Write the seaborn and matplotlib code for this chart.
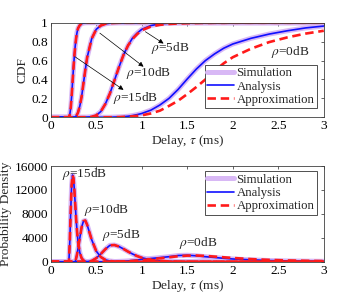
import numpy as np
import matplotlib
matplotlib.use("Agg")
import matplotlib.pyplot as plt
import seaborn as sns
from matplotlib.lines import Line2D

sns.set_style("white")
plt.rcParams["font.family"] = ["Liberation Serif", "DejaVu Serif"]
plt.rcParams["mathtext.fontset"] = "stix"
plt.rcParams["font.size"] = 9.6

# delay grid (ms)
delay = [0, 0.1, 0.15, 0.18,
         0.2, 0.21, 0.22, 0.23, 0.24, 0.25, 0.26, 0.27, 0.28, 0.29, 0.3,
         0.32, 0.34, 0.36, 0.38, 0.4,
         0.45, 0.5, 0.55, 0.6, 0.65, 0.7, 0.75, 0.8, 0.85, 0.9, 0.95, 1.0,
         1.1, 1.2, 1.3, 1.4, 1.5, 1.6, 1.7, 1.8, 1.9, 2.0,
         2.2, 2.4, 2.6, 2.8, 3.0]

snr_labels = ["0dB", "5dB", "10dB", "15dB"]

# CDF, analysis
cdf_0 = [0, 0, 0, 0,
         0, 0, 0, 0, 0, 0, 0, 0, 0, 0, 0,
         0, 0, 0, 0, 0,
         0, 0, 0, 0, 0, 0.002, 0.004, 0.006, 0.011, 0.018, 0.028, 0.04,
         0.075, 0.13, 0.2, 0.295, 0.405, 0.51, 0.6, 0.67, 0.73, 0.775,
         0.835, 0.88, 0.915, 0.945, 0.965]
cdf_5 = [0, 0, 0, 0,
         0, 0, 0, 0, 0, 0, 0, 0, 0, 0, 0,
         0, 0, 0, 0, 0,
         0.005, 0.02, 0.06, 0.14, 0.25, 0.39, 0.53, 0.66, 0.76, 0.84, 0.89, 0.93,
         0.97, 0.988, 0.995, 0.998, 1, 1, 1, 1, 1, 1,
         1, 1, 1, 1, 1]
cdf_10 = [0, 0, 0, 0,
          0, 0, 0, 0, 0, 0, 0, 0.005, 0.015, 0.03, 0.05,
          0.12, 0.22, 0.36, 0.5, 0.63,
          0.83, 0.93, 0.97, 0.988, 0.995, 0.998, 1, 1, 1, 1, 1, 1,
          1, 1, 1, 1, 1, 1, 1, 1, 1, 1,
          1, 1, 1, 1, 1]
cdf_15 = [0, 0, 0, 0,
          0, 0.03, 0.1, 0.22, 0.37, 0.52, 0.65, 0.76, 0.84, 0.9, 0.94,
          0.975, 0.99, 0.996, 0.999, 1,
          1, 1, 1, 1, 1, 1, 1, 1, 1, 1, 1, 1,
          1, 1, 1, 1, 1, 1, 1, 1, 1, 1,
          1, 1, 1, 1, 1]

# CDF, approximation (only 0dB and 5dB differ visibly)
cdf_0_apx = [0, 0, 0, 0,
             0, 0, 0, 0, 0, 0, 0, 0, 0, 0, 0,
             0, 0, 0, 0, 0,
             0, 0, 0, 0, 0, 0.001, 0.002, 0.004, 0.006, 0.01, 0.015, 0.02,
             0.04, 0.07, 0.12, 0.175, 0.245, 0.32, 0.4, 0.49, 0.57, 0.635,
             0.725, 0.795, 0.845, 0.885, 0.915]
cdf_5_apx = [0, 0, 0, 0,
             0, 0, 0, 0, 0, 0, 0, 0, 0, 0, 0,
             0, 0, 0, 0, 0,
             0.005, 0.02, 0.06, 0.14, 0.25, 0.39, 0.53, 0.66, 0.76, 0.83, 0.88, 0.92,
             0.96, 0.978, 0.987, 0.992, 0.995, 0.997, 0.998, 0.999, 0.999, 1,
             1, 1, 1, 1, 1]

# PDF, analysis
pdf_0 = [0, 0, 0, 0,
         0, 0, 0, 0, 0, 0, 0, 0, 0, 0, 0,
         0, 0, 0, 0, 0,
         0, 0, 0, 0, 0, 40, 70, 100, 150, 220, 300, 400,
         550, 700, 850, 1050, 1100, 1000, 850, 720, 580, 470,
         330, 210, 150, 110, 80]
pdf_5 = [0, 0, 0, 0,
         0, 0, 0, 0, 0, 0, 0, 0, 0, 0, 0,
         0, 0, 0, 0, 0,
         150, 600, 1300, 2100, 2750, 2800, 2550, 2150, 1700, 1300, 950, 680,
         330, 150, 60, 25, 10, 0, 0, 0, 0, 0,
         0, 0, 0, 0, 0]
pdf_10 = [0, 0, 0, 0,
          0, 0, 0, 0, 0, 0, 0, 0, 600, 1300, 2200,
          4000, 5800, 6800, 6900, 6200,
          3700, 1800, 800, 330, 130, 50, 20, 0, 0, 0, 0, 0,
          0, 0, 0, 0, 0, 0, 0, 0, 0, 0,
          0, 0, 0, 0, 0]
pdf_15 = [0, 0, 0, 0,
          0, 3500, 8500, 12800, 14500, 14000, 12000, 9500, 7000, 5000, 3400,
          1500, 600, 220, 80, 30,
          0, 0, 0, 0, 0, 0, 0, 0, 0, 0, 0, 0,
          0, 0, 0, 0, 0, 0, 0, 0, 0, 0,
          0, 0, 0, 0, 0]
pdf_0_apx = [0, 0, 0, 0,
             0, 0, 0, 0, 0, 0, 0, 0, 0, 0, 0,
             0, 0, 0, 0, 0,
             0, 0, 0, 0, 0, 20, 40, 70, 100, 150, 210, 280,
             420, 580, 760, 930, 1030, 1050, 980, 870, 750, 640,
             450, 320, 230, 170, 120]

cdf_sim = [cdf_0, cdf_5, cdf_10, cdf_15]
cdf_ana = [cdf_0, cdf_5, cdf_10, cdf_15]
cdf_apx = [cdf_0_apx, cdf_5_apx, cdf_10, cdf_15]
pdf_sim = [pdf_0, pdf_5, pdf_10, pdf_15]
pdf_ana = [pdf_0, pdf_5, pdf_10, pdf_15]
pdf_apx = [pdf_0_apx, pdf_5, pdf_10, pdf_15]

SIM_C = "#d8b8f5"
ANA_C = "#1010ff"
APX_C = "#ff1a1a"
DASH = (0, (3.2, 1.8))

fig = plt.figure(figsize=(3.57, 3.03), dpi=100)
ax1 = fig.add_axes([0.142, 0.613, 0.765, 0.312])
ax2 = fig.add_axes([0.142, 0.136, 0.765, 0.316])


def draw(ax, sim, ana, apx):
    for s in sim:
        sns.lineplot(x=delay, y=s, ax=ax, color=SIM_C, lw=3.6, sort=False)
    for a in ana:
        sns.lineplot(x=delay, y=a, ax=ax, color=ANA_C, lw=1.2, sort=False)
    for p in apx:
        sns.lineplot(x=delay, y=p, ax=ax, color=APX_C, lw=1.9,
                     linestyle=DASH, sort=False)


draw(ax1, cdf_sim, cdf_ana, cdf_apx)
draw(ax2, pdf_sim, pdf_ana, pdf_apx)

handles = [Line2D([], [], color=SIM_C, lw=3.6),
           Line2D([], [], color=ANA_C, lw=1.2),
           Line2D([], [], color=APX_C, lw=1.9, linestyle=DASH)]
names = ["Simulation", "Analysis", "Approximation"]

for ax, ylab, yt, ylim, anchor in [
        (ax1, "CDF", [0, 0.2, 0.4, 0.6, 0.8, 1], (0, 1), (0.975, 0.555)),
        (ax2, "Probability Density", [0, 4000, 8000, 12000, 16000], (0, 16000), (0.975, 0.945))]:
    ax.set_xlim(0, 3)
    ax.set_ylim(*ylim)
    ax.set_xticks([0, 0.5, 1, 1.5, 2, 2.5, 3])
    ax.set_xticklabels(["0", "0.5", "1", "1.5", "2", "2.5", "3"])
    ax.set_yticks(yt)
    ax.set_yticklabels([f"{v:g}" for v in yt])
    ax.set_xlabel(r"Delay, $\tau$ (ms)", labelpad=1)
    ax.set_ylabel(ylab, labelpad=2)
    ax.tick_params(direction="in", length=2.5, width=0.5, top=True, right=True,
                   pad=2, colors="0.15", labelcolor="black")
    for sp in ax.spines.values():
        sp.set_visible(True)
        sp.set_color("0.25")
        sp.set_linewidth(0.6)
    leg = ax.legend(handles, names, loc="upper right", bbox_to_anchor=anchor,
                    fancybox=False, framealpha=1, edgecolor="0.2",
                    fontsize=9.2, handlelength=2.1, handletextpad=0.2,
                    labelspacing=0.1, borderpad=0.2, borderaxespad=0)
    leg.get_frame().set_linewidth(0.6)

arrow = dict(arrowstyle="-|>", color="black", lw=0.5, mutation_scale=7,
             shrinkA=0, shrinkB=0)
ax1.annotate("", xy=(1.24, 0.78), xytext=(1.04, 0.905), arrowprops=arrow)
ax1.annotate("", xy=(1.02, 0.535), xytext=(0.54, 0.89), arrowprops=arrow)
ax1.annotate("", xy=(0.80, 0.29), xytext=(0.267, 0.64), arrowprops=arrow)
ax1.text(1.31, 0.73, r"$\rho$=" + snr_labels[1], ha="center", va="center")
ax1.text(1.08, 0.47, r"$\rho$=" + snr_labels[2], ha="center", va="center")
ax1.text(0.93, 0.20, r"$\rho$=" + snr_labels[3], ha="center", va="center")
ax1.text(2.63, 0.69, r"$\rho$=" + snr_labels[0], ha="center", va="center")

ax2.text(0.37, 14660, r"$\rho$=" + snr_labels[3], ha="center", va="center")
ax2.text(0.61, 8640, r"$\rho$=" + snr_labels[2], ha="center", va="center")
ax2.text(0.77, 4460, r"$\rho$=" + snr_labels[1], ha="center", va="center")
ax2.text(1.62, 3080, r"$\rho$=" + snr_labels[0], ha="center", va="center")

fig.savefig("out.png", dpi=100)
plt.close(fig)
